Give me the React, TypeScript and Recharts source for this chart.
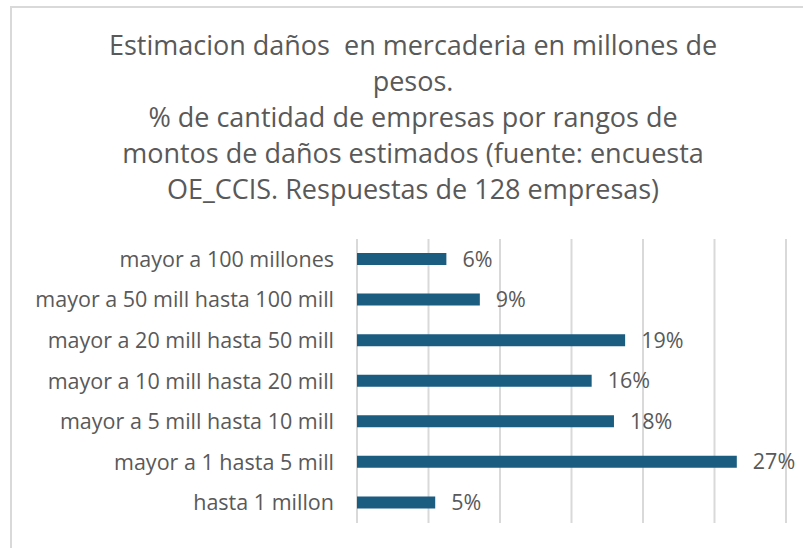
import { BarChart, Bar, XAxis, YAxis, CartesianGrid, LabelList } from "recharts"

// rangos de daños, de mayor a menor (orden de arriba hacia abajo)
const rangos = [
  "mayor a 100 millones",
  "mayor a 50 mill hasta 100 mill",
  "mayor a 20 mill hasta 50 mill",
  "mayor a 10 mill hasta 20 mill",
  "mayor a 5 mill hasta 10 mill",
  "mayor a 1 hasta 5 mill",
  "hasta 1 millon",
]

// % de empresas (sobre 128 respuestas)
const porcentajes = [6.25, 8.59, 18.75, 16.41, 17.97, 26.56, 5.47]

const xTicks = [0, 5, 10, 15, 20, 25, 30]

const tituloLineas = [
  "Estimacion daños  en mercaderia en millones de",
  "pesos.",
  "% de cantidad de empresas por rangos de",
  "montos de daños estimados (fuente: encuesta",
  "OE_CCIS. Respuestas de 128 empresas)",
]

const data = rangos.map((rango, i) => ({ rango, valor: porcentajes[i] }))

const font = "'Open Sans', sans-serif"
const textColor = "#595959"

export default function App() {
  return (
    <div
      style={{
        position: "fixed",
        left: 0,
        top: 0,
        width: 803,
        height: 548,
        overflow: "hidden",
        background: "#fff",
        fontFamily: font,
      }}
    >
      {/* marco del grafico */}
      <div
        style={{
          position: "absolute",
          left: 10,
          top: 6,
          width: 900,
          height: 700,
          border: "2px solid #d9d9d9",
        }}
      />
      <div style={{ position: "absolute", left: 0, top: 27, width: 826, textAlign: "center" }}>
        {tituloLineas.map((l, i) => (
          <div key={i} style={{ fontSize: 27, lineHeight: "36px", color: textColor, whiteSpace: "pre" }}>
            {l}
          </div>
        ))}
      </div>
      <div style={{ position: "absolute", left: 0, top: 0 }}>
        <BarChart
          width={803}
          height={548}
          data={data}
          layout="vertical"
          margin={{ top: 239, right: 17, bottom: 25, left: 0 }}
        >
          <CartesianGrid horizontal={false} stroke="#d9d9d9" strokeWidth={2} />
          <XAxis type="number" domain={[0, 30]} ticks={xTicks} hide />
          <YAxis
            type="category"
            dataKey="rango"
            width={357}
            axisLine={false}
            tickLine={false}
            tickSize={0}
            tickMargin={23}
            tick={{ fill: textColor, fontSize: 21.5, fontFamily: font }}
          />
          <Bar dataKey="valor" fill="#1a5d80" barSize={12} isAnimationActive={false}>
            <LabelList
              dataKey="valor"
              position="right"
              offset={16}
              formatter={(v: number) => `${Math.round(v)}%`}
              style={{ fill: textColor, fontSize: 21.5, fontFamily: font }}
            />
          </Bar>
        </BarChart>
      </div>
    </div>
  )
}
